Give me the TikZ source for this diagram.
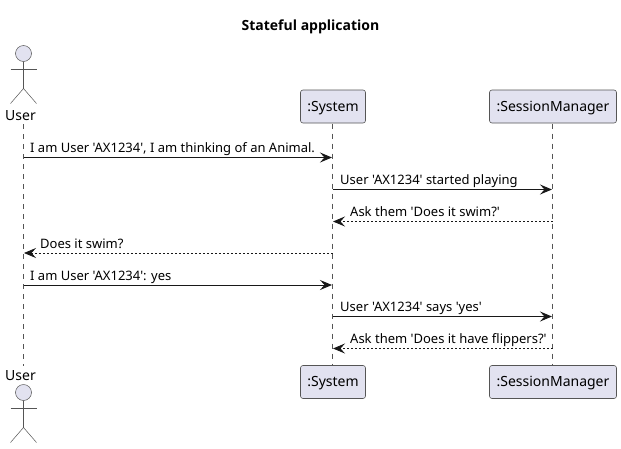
\documentclass[tikz,border=0pt]{standalone}
\usepackage{fontspec}
\setmainfont{Noto Sans}[Ligatures=TeXOff]
\newfontfamily\titlefont{Open Sans}[Ligatures=TeXOff]
\usetikzlibrary{arrows.meta}
\definecolor{partfill}{HTML}{E2E2F0}
\definecolor{partline}{HTML}{181818}
\definecolor{thinline}{HTML}{555555}
\tikzset{
  x=1pt,y=-1pt,
  part/.style={draw=thinline,line width=0.6pt,fill=partfill,rounded corners=2.5pt,minimum width=#1,minimum height=33pt,inner sep=0pt,font=\fontsize{14}{16}\selectfont},
  lifeline/.style={draw=thinline,line width=0.5pt,dash pattern=on 5pt off 5pt},
  msg/.style={draw=partline,line width=1pt,-{Stealth[length=12pt,width=10pt,inset=4.5pt]},shorten >=0.5pt},
  reply/.style={msg,line width=0.8pt,dash pattern=on 2pt off 2pt},
  msgtext/.style={anchor=base west,inner sep=0pt,font=\fontsize{13}{15}\selectfont,text=black},
  actorline/.style={draw=thinline,line width=0.5pt},
  actorhead/.style={circle,draw=thinline,line width=0.5pt,fill=partfill,minimum size=16pt,inner sep=0pt},
  actorname/.style={inner sep=0pt,font=\fontsize{14}{16}\selectfont,text=black,anchor=base}
}
\newcommand{\parttext}[1]{\raisebox{-1.5pt}[\height][\depth]{#1}}
\begin{document}
\begin{tikzpicture}
\useasboundingbox (0,0) rectangle (621,448);
\node[anchor=base,inner sep=0pt,font=\titlefont\bfseries\fontsize{14}{16}\selectfont] (title) at (310.5,30) {Stateful application};
% lifeline ends
\coordinate (uT) at (23.5,124); \coordinate (uB) at (23.5,366);
\coordinate (m1u) at (23.5,157.5); \coordinate (m4u) at (23.5,253); \coordinate (m5u) at (23.5,285);
\coordinate (m1s) at (332.5,157.5); \coordinate (m2s) at (332.5,189.5); \coordinate (m3s) at (332.5,221.5);
\coordinate (m4s) at (332.5,253); \coordinate (m5s) at (332.5,285); \coordinate (m6s) at (332.5,316.5); \coordinate (m7s) at (332.5,348.5);
\coordinate (m2m) at (552.5,189.5); \coordinate (m3m) at (552.5,221.5); \coordinate (m6m) at (552.5,316.5); \coordinate (m7m) at (552.5,348.5);
\path[lifeline] (uT) -- (uB);
% participants
\node[part=65pt] (sysT) at (333,106.5) {\parttext{:System}};
\node[part=127pt] (mgrT) at (553,106.5) {\parttext{:SessionManager}};
\node[part=65pt] (sysB) at (333,382) {\parttext{:System}};
\node[part=127pt] (mgrB) at (553,382) {\parttext{:SessionManager}};
\path[lifeline] (332.5,123.5) -- (332.5,365.5);
\path[lifeline] (552.5,123.5) -- (552.5,365.5);
% top actor
\node[actorhead] (headT) at (23.5,53.5) {};
\coordinate (neckT) at (23.5,61.5); \coordinate (hipT) at (23.5,88.5);
\draw[actorline] (neckT) -- (hipT);
\draw[actorline] (10.5,69.5) -- (36.5,69.5);
\draw[actorline] (10.5,103.5) -- (hipT) -- (36.5,103.5);
\node[actorname] (userT) at (20.5,120) {User};
% bottom actor
\node[actorname] (userB) at (20.5,380) {User};
\node[actorhead] (headB) at (23.5,392.5) {};
\coordinate (neckB) at (23.5,400.5); \coordinate (hipB) at (23.5,427.5);
\draw[actorline] (neckB) -- (hipB);
\draw[actorline] (10.5,408.5) -- (36.5,408.5);
\draw[actorline] (10.5,442.5) -- (hipB) -- (36.5,442.5);
% messages
\draw[msg] (m1u) -- (m1s);
\node[msgtext] (t1) at (30,152) {I am User 'AX1234', I am thinking of an Animal.};
\draw[msg] (m2s) -- (m2m);
\node[msgtext] (t2) at (340,184) {User 'AX1234' started playing};
\draw[reply] (m3m) -- (m3s);
\node[msgtext] (t3) at (350,216) {Ask them 'Does it swim?'};
\draw[reply] (m4s) -- (m4u);
\node[msgtext] (t4) at (40,248) {Does it swim?};
\draw[msg] (m5u) -- (m5s);
\node[msgtext] (t5) at (30,280) {I am User 'AX1234': yes};
\draw[msg] (m6s) -- (m6m);
\node[msgtext] (t6) at (340,311) {User 'AX1234' says 'yes'};
\draw[reply] (m7m) -- (m7s);
\node[msgtext] (t7) at (350,343) {Ask them 'Does it have flippers?'};
\end{tikzpicture}
\end{document}
